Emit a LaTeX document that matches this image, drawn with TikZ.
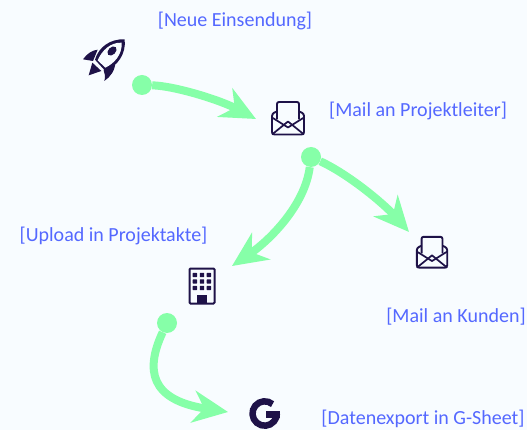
\documentclass[tikz,border=0pt]{standalone}
\usepackage{fontspec}
\setmainfont{Carlito}
\usetikzlibrary{arrows.meta}
\definecolor{paper}{HTML}{F8FCFF}
\definecolor{flowgreen}{HTML}{86FFA8}
\definecolor{icondark}{HTML}{1E1248}
\definecolor{labelblue}{HTML}{5468FF}
\tikzset{x=1pt,y=-1pt,
	label text/.style={text=labelblue,font=\fontsize{20}{24}\selectfont,inner sep=0pt},
	flow dot/.style={circle,fill=flowgreen,minimum size=20pt,inner sep=0pt},
	flow/.style={draw=flowgreen,line width=8pt,-{Stealth[length=35pt,width=32pt,inset=11pt]}},
	mail icon/.pic={
		\draw[icondark,line width=1.9pt,rounded corners=2pt,fill=paper] (-11,1)--(-11,-16.5)--(11,-16.5)--(11,1);
		\draw[icondark,line width=1.9pt,rounded corners=2.5pt] (-11,-7)--(-16,-5)--(-16,16)--(16,16)--(16,-5)--(11,-7);
		\draw[icondark,line width=1.7pt,line join=round] (-16,-1)--(0,9)--(16,-1);
		\draw[icondark,line width=1.7pt,line join=round] (-16,16)--(0,3)--(16,16);
	},
	tower icon/.pic={
		\draw[icondark,line width=2pt,rounded corners=1pt,fill=paper] (-12.5,-17.5) rectangle (12.5,17.5);
		\foreach \col in {-7.2,0,6.8}
			\foreach \row in {-11,-4.5,2}
				\fill[icondark,rounded corners=.6pt] (\col-2.2,\row-2.2) rectangle (\col+2.2,\row+2.2);
		\fill[icondark] (-5,9) rectangle (4.5,17.5);
	},
	google icon/.pic={
		\draw[icondark,line width=6.5pt] (-50:12.2) arc[start angle=-50,end angle=-360,radius=12.2];
		\fill[icondark] (1,-2.3) rectangle (15.5,4.5);
	},
	rocket icon/.pic={
		% zoom coordinates
		\begin{scope}[x=.3333pt,y=-.3333pt,shift={(-131,-119)}]
			\fill[icondark] (193,57) .. controls (150,55) and (115,80) .. (104,118) -- (134,151) .. controls (172,138) and (198,100) .. (193,57) -- cycle;
			\fill[paper] (184,67) .. controls (150,66) and (125,90) .. (112,120) -- (135,142) .. controls (160,130) and (186,105) .. (184,67) -- cycle;
			\fill[icondark,rotate around={45:(155,92)}] (155,92) ellipse (16 and 11);
			\fill[icondark] (68,117) .. controls (80,100) and (95,90) .. (112,88) -- (98,122) -- cycle;
			\fill[icondark] (85,165) -- (96,127) -- (123,152) -- cycle;
			\fill[icondark] (132,182) .. controls (150,170) and (165,150) .. (165,125) -- (130,150) .. controls (135,160) and (135,170) .. (132,182) -- cycle;
		\end{scope}
	},
	}

\begin{document}
\begin{tikzpicture}
	\fill[paper] (0,0) rectangle (527,430);
	\useasboundingbox (0,0) rectangle (527,430);
	%icons
	\pic at (104,60) {rocket icon};
	\pic at (288,118.5) {mail icon};
	\pic[scale=.95] at (432,252.5) {mail icon};
	\pic at (202,286) {tower icon};
	\pic at (264.7,413.5) {google icon};
	%labels
	\node[label text] (einsendung) at (235,21) {[Neue Einsendung]};
	\node[label text] (projektleiter) at (418,111) {[Mail an Projektleiter]};
	\node[label text] (projektakte) at (113.5,236) {[Upload in Projektakte]};
	\node[label text] (kunden) at (456,317) {[Mail an Kunden]};
	\node[label text] (export) at (423,419) {[Datenexport in G-Sheet]};
	%flows
	\node[flow dot] (start a) at (142,85) {};
	\node[flow dot] (start b) at (311,157) {};
	\node[flow dot] (start c) at (167,323) {};
	\coordinate (end a) at (256,119);
	\coordinate (end b) at (232,266);
	\coordinate (end c) at (409,232);
	\coordinate (end d) at (228,412);
	\draw[flow] (start a) .. controls (175,86) and (220,100) .. (end a);
	\draw[flow] (start b) .. controls (305,205) and (270,240) .. (end b);
	\draw[flow] (start b) .. controls (350,175) and (385,205) .. (end c);
	\draw[flow] (start c) .. controls (145,370) and (150,400) .. (end d);
\end{tikzpicture}
\end{document}
